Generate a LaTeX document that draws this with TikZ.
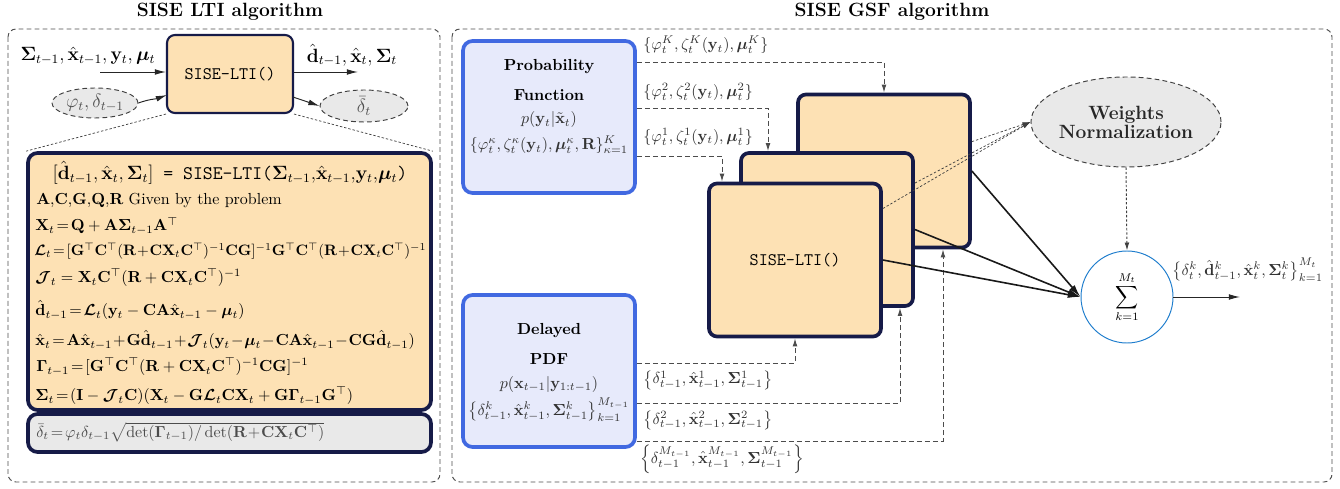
\documentclass[tikz,border=0pt]{standalone}
\usepackage{amsmath,amssymb,bm}
\usetikzlibrary{arrows.meta,shapes.geometric,calc}
\definecolor{peach}{RGB}{253,225,180}
\definecolor{navy}{RGB}{22,27,72}
\definecolor{royal}{RGB}{65,105,225}
\definecolor{lav}{RGB}{231,234,251}
\definecolor{lgray}{RGB}{233,233,233}
\definecolor{sumblue}{RGB}{30,125,205}
\definecolor{dgray}{RGB}{80,80,80}
\newcommand{\pxu}{0.625pt}
\newcommand{\bx}{\mathbf{x}}
\newcommand{\by}{\mathbf{y}}
\newcommand{\bd}{\mathbf{d}}
\newcommand{\bSg}{\boldsymbol{\Sigma}}
\newcommand{\bmu}{\boldsymbol{\mu}}
\newcommand{\bGm}{\boldsymbol{\Gamma}}
\newcommand{\bLc}{\boldsymbol{\mathcal{L}}}
\newcommand{\bJc}{\boldsymbol{\mathcal{J}}}
\begin{document}
\begin{tikzpicture}[x=0.625pt,y=-0.625pt,
  frame/.style={draw=black!70,dash pattern=on 3pt off 2pt,line width=0.6pt,rounded corners=5pt},
  ttl/.style={font=\large\bfseries},
  ltibox/.style={draw=navy,fill=peach,rounded corners=5pt,line width=1.3pt,
     minimum width={126*\pxu},minimum height={78*\pxu},font=\fontsize{11}{13}\selectfont\ttfamily},
  stackbox/.style={draw=navy,fill=peach,rounded corners=5pt,line width=2.3pt,
     minimum width={172*\pxu},minimum height={153*\pxu},font=\fontsize{11}{13}\selectfont\ttfamily},
  bluebox/.style={draw=royal,fill=lav,rounded corners=6pt,line width=2.3pt,
     minimum width={172*\pxu},minimum height={152*\pxu}},
  gell/.style={ellipse,draw=black!75,fill=lgray,dash pattern=on 3pt off 2pt,line width=0.6pt,inner sep=0pt,text=dgray},
  eq/.style={anchor=west,inner sep=0pt},
  lab/.style={anchor=west,inner sep=0pt,text=black!80},
  sar/.style={-{Latex[length=7pt,width=3.6pt]},line width=0.6pt,draw=black!85},
  dar/.style={-{Latex[length=5pt,width=3pt]},draw=black!70,dash pattern=on 3pt off 2pt,line width=0.6pt},
  dotl/.style={draw=black!75,dash pattern=on 1.5pt off 1.2pt,line width=0.45pt},
  thk/.style={-{Latex[length=8pt,width=4.2pt]},line width=1pt,draw=black!90}]
\useasboundingbox (0,0) rectangle (1340,489);

% ---------------- left panel ----------------
\node[ttl] (t1) at (230,12) {SISE LTI algorithm};
\draw[frame] (8,29) rectangle (440,482);

\node[ltibox] (small) at (230,74) {SISE-LTI()};
\node[inner sep=0pt,font=\large] (inlab) at (88,56) {$\bSg_{t-1},\hat{\bx}_{t-1},\by_t,\bmu_t$};
\node[inner sep=0pt,font=\large] (outlab) at (352,55) {$\hat{\bd}_{t-1},\hat{\bx}_t,\bSg_t$};
\coordinate (inL) at (100,72);
\coordinate (outR) at (358,72);
\draw[sar] (inL) -- (inL -| small.west);
\draw[sar] (outR -| small.east) -- (outR);

\node[gell,minimum width={86*\pxu},minimum height={30*\pxu},font=\large] (phi) at (95,103) {$\varphi_t,\delta_{t-1}$};
\node[gell,minimum width={88*\pxu},minimum height={32*\pxu},font=\large] (dbar) at (364,106) {$\bar{\delta}_t$};
\coordinate (phiin) at (167,95);
\coordinate (dbout) at (293,97);
\draw[sar] (phi.east) to[out=20,in=200] (phiin);
\draw[sar] (dbout) -- (dbar.west);

\node[draw=navy,fill=peach,rounded corners=6pt,line width=2.3pt,
      minimum width={403*\pxu},minimum height={257*\pxu}] (big) at (229.5,281.5) {};
\node[draw=navy,fill=lgray,rounded corners=6pt,line width=2.3pt,
      minimum width={403*\pxu},minimum height={38*\pxu}] (gbox) at (229.5,433) {};
\draw[dotl] (small.south west) -- (big.north west);
\draw[dotl] (small.south east) -- (big.north east);

\node[inner sep=0pt] (e0) at (230,173) {\large$[\hat{\bd}_{t-1},\hat{\bx}_t,\bSg_t]$\texttt{ = SISE-LTI(}$\bSg_{t-1}{,}\hat{\bx}_{t-1}{,}\by_t{,}\bmu_t$\texttt{)}};
\node[eq] (e1) at (36,201) {$\mathbf{A}{,}\mathbf{C}{,}\mathbf{G}{,}\mathbf{Q}{,}\mathbf{R}$ Given by the problem};
\node[eq] (e2) at (35,226) {$\mathbf{X}_t\!=\!\mathbf{Q}+\mathbf{A}\bSg_{t-1}\mathbf{A}^\top$};
\node[eq] (e3) at (34,251) {\resizebox{245pt}{!}{$\bLc_t\!=\![\mathbf{G}^\top\mathbf{C}^\top(\mathbf{R}\!+\!\mathbf{C}\mathbf{X}_t\mathbf{C}^\top)^{-1}\mathbf{C}\mathbf{G}]^{-1}\mathbf{G}^\top\mathbf{C}^\top(\mathbf{R}\!+\!\mathbf{C}\mathbf{X}_t\mathbf{C}^\top)^{-1}$}};
\node[eq] (e4) at (35,278) {$\bJc_t=\mathbf{X}_t\mathbf{C}^\top(\mathbf{R}+\mathbf{C}\mathbf{X}_t\mathbf{C}^\top)^{-1}$};
\node[eq] (e5) at (35,310) {$\hat{\bd}_{t-1}\!=\!\bLc_t(\by_t-\mathbf{C}\mathbf{A}\hat{\bx}_{t-1}-\bmu_t)$};
\node[eq] (e6) at (35,340) {$\hat{\bx}_t\!=\!\mathbf{A}\hat{\bx}_{t-1}\!+\!\mathbf{G}\hat{\bd}_{t-1}\!+\!\bJc_t(\by_t\!-\!\bmu_t\!-\!\mathbf{C}\mathbf{A}\hat{\bx}_{t-1}\!-\!\mathbf{C}\mathbf{G}\hat{\bd}_{t-1})$};
\node[eq] (e7) at (36,367) {$\bGm_{t-1}\!=\![\mathbf{G}^\top\mathbf{C}^\top(\mathbf{R}+\mathbf{C}\mathbf{X}_t\mathbf{C}^\top)^{-1}\mathbf{C}\mathbf{G}]^{-1}$};
\node[eq] (e8) at (35,396) {$\bSg_t\!=\!(\mathbf{I}-\bJc_t\mathbf{C})(\mathbf{X}_t-\mathbf{G}\bLc_t\mathbf{C}\mathbf{X}_t+\mathbf{G}\bGm_{t-1}\mathbf{G}^\top)$};
\node[eq,text=black!70] (e9) at (36,432) {$\bar{\delta}_t\!=\!\varphi_t\delta_{t-1}\sqrt{\det(\bGm_{t-1})/\det(\mathbf{R}\!+\!\mathbf{C}\mathbf{X}_t\mathbf{C}^\top)}$};

% ---------------- right panel ----------------
\node[ttl] (t2) at (892,12) {SISE GSF algorithm};
\draw[frame] (452,29) rectangle (1332,482);

\node[bluebox] (prob) at (549,117) {};
\node[inner sep=0pt,font=\bfseries] (p1) at (549,67) {Probability};
\node[inner sep=0pt,font=\bfseries] (p2) at (549,95) {Function};
\node[inner sep=0pt,text=black!80] (p3) at (549,120) {$p(\by_t|\tilde{\bx}_t)$};
\node[inner sep=0pt,text=black!80] (p4) at (549,145) {$\{\varphi_t^\kappa,\zeta_t^\kappa(\by_t),\bmu_t^\kappa,\mathbf{R}\}_{\kappa=1}^K$};

\node[bluebox] (pdf) at (549,371) {};
\node[inner sep=0pt,font=\bfseries] (q1) at (549,331) {Delayed};
\node[inner sep=0pt,font=\bfseries] (q2) at (549,359) {PDF};
\node[inner sep=0pt,text=black!80] (q3) at (549,384) {$p(\bx_{t-1}|\by_{1:t-1})$};
\node[inner sep=0pt,text=black!80] (q4) at (549,410) {$\big\{\delta_{t-1}^k,\hat{\bx}_{t-1}^k,\bSg_{t-1}^k\big\}_{k=1}^{M_{t-1}}$};

\node[stackbox] (boxK) at (884,171) {};
\node[stackbox] (mid) at (827,229.5) {};
\node[stackbox] (front) at (795,260) {SISE-LTI()};

% probability -> boxes
\coordinate (yK) at (0,62);
\coordinate (y2) at (0,108);
\coordinate (y1) at (0,156);
\coordinate (x2) at (768,0);
\coordinate (x1) at (722,0);
\draw[dar] (prob.east |- yK) -| (boxK.north);
\draw[dar] (prob.east |- y2) -| (mid.north -| x2);
\draw[dar] (prob.east |- y1) -| (front.north -| x1);
\node[lab] (lK) at (643,45) {$\{\varphi_t^K,\zeta_t^K(\by_t),\bmu_t^K\}$};
\node[lab] (l2) at (643,92) {$\{\varphi_t^2,\zeta_t^2(\by_t),\bmu_t^2\}$};
\node[lab] (l1) at (643,137) {$\{\varphi_t^1,\zeta_t^1(\by_t),\bmu_t^1\}$};

% pdf -> boxes
\coordinate (z1) at (0,363);
\coordinate (z2) at (0,403);
\coordinate (zM) at (0,441);
\coordinate (w2) at (900,0);
\coordinate (wM) at (943,0);
\draw[dar] (pdf.east |- z1) -| (front.south);
\draw[dar] (pdf.east |- z2) -| (mid.south -| w2);
\draw[dar] (pdf.east |- zM) -| (boxK.south -| wM);
\node[lab] (m1) at (643,380) {$\big\{\delta_{t-1}^1,\hat{\bx}_{t-1}^1,\bSg_{t-1}^1\big\}$};
\node[lab] (m2) at (643,420) {$\big\{\delta_{t-1}^2,\hat{\bx}_{t-1}^2,\bSg_{t-1}^2\big\}$};
\node[lab] (mM) at (640,459) {$\Big\{\delta_{t-1}^{M_{t-1}},\hat{\bx}_{t-1}^{M_{t-1}},\bSg_{t-1}^{M_{t-1}}\Big\}$};

% weights normalisation and sum
\node[gell,text=black!85,minimum width={165*\pxu},minimum height={90*\pxu},font=\large\bfseries,align=center] (wn) at (1126,122) {Weights\\[-2pt]Normalization};
\node[circle,draw=sumblue,fill=white,line width=0.6pt,minimum size={92*\pxu},inner sep=0pt] (sum) at (1127,297) {$\displaystyle\sum_{k=1}^{M_t}$};

\draw[dotl,-{Latex[length=5pt,width=3pt]}] (boxK) -- (wn.west);
\draw[dotl,-{Latex[length=5pt,width=3pt]}] (mid) -- (wn.west);
\draw[dotl,-{Latex[length=5pt,width=3pt]}] (front) -- (wn.west);

\draw[thk] (boxK.east) -- (sum.west);
\draw[thk] (mid.east) -- (sum.west);
\draw[thk] (front.east) -- (sum.west);

\draw[dotl,-{Latex[length=5pt,width=3pt]},line width=0.6pt] (wn.south) -- (sum.north);
\coordinate (sout) at (1240,297);
\draw[sar] (sum.east) -- (sout);
\node[lab] (slab) at (1172,270) {$\big\{\delta_t^k,\hat{\bd}_{t-1}^k,\hat{\bx}_t^k,\bSg_t^k\big\}_{k=1}^{M_t}$};
\end{tikzpicture}
\end{document}
